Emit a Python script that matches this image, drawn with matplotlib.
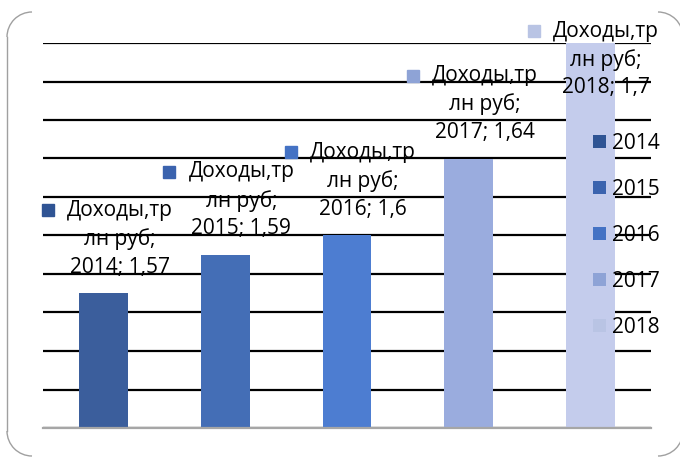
import matplotlib
matplotlib.use("Agg")
import matplotlib.pyplot as plt
from matplotlib.patches import Patch, Arc
from matplotlib.lines import Line2D
from matplotlib.transforms import offset_copy

plt.rcParams['font.family'] = ['Open Sans', 'DejaVu Sans']

years = ["2014", "2015", "2016", "2017", "2018"]
values = [1.57, 1.59, 1.6, 1.64, 1.7]
value_text = ["1,57", "1,59", "1,6", "1,64", "1,7"]
series_name = ["Доходы,тр", "лн руб;"]
colors = ["#3B5E9C", "#446EB6", "#4D7DD1", "#9AACDE", "#C4CCEC"]
key_colors = ["#2F5494", "#3B63AE", "#4472C4", "#8EA3D6", "#B9C4E4"]

W, H = 680, 457
fig = plt.figure(figsize=(W / 100, H / 100), dpi=100)
ax = fig.add_axes([43 / W, 1 - 428 / H, (651 - 43) / W, (428 - 43) / H])

# rounded frame: only sides and corners visible (pixel coords, y from top)
ftr = fig.dpi_scale_trans
def px(xp, yp):
    return xp / 100, (H - yp) / 100
fc = "#a0a0a0"
for cx, cy, t1, t2 in [(32, 37, 90, 180), (32, 431, 180, 270), (658, 37, 0, 90), (658, 431, 270, 360)]:
    fig.add_artist(Arc(px(cx, cy), 0.5, 0.5, theta1=t1, theta2=t2, transform=ftr,
                       edgecolor=fc, linewidth=1.0))
x0, y0 = px(7, 37)
x1, y1 = px(7, 431)
fig.add_artist(Line2D([x0, x1], [y0, y1], transform=ftr, color=fc, linewidth=1.0))

x = list(range(len(years)))
ax.bar(x, [v - 1.5 for v in values], bottom=1.5, width=0.4, color=colors, zorder=2)

ax.set_xlim(-0.5, 4.5)
ax.set_ylim(1.5, 1.7)
ax.set_yticks([1.5 + 0.02 * i for i in range(11)])
ax.yaxis.grid(True, color="black", linewidth=1.6, zorder=1)
ax.set_axisbelow(True)
ax.tick_params(left=False, bottom=False, labelleft=False, labelbottom=False)
for s in ["left", "right", "top"]:
    ax.spines[s].set_visible(False)
ax.spines["bottom"].set_color("#a6a6a6")
ax.spines["bottom"].set_linewidth(1.6)

fs = 15
for i, (yr, v, vt) in enumerate(zip(years, values, value_text)):
    lines = [series_name[0], series_name[1], yr + "; " + vt]
    shift = -71 if i == 4 else 0
    offs = [83, 54, 26]
    for ln, dy in zip(lines, offs):
        ax.annotate(ln, xy=(i, v), xytext=(16, dy + shift), textcoords="offset pixels",
                    ha="center", va="center", fontsize=fs, color="black", zorder=5)
    tr = offset_copy(ax.transData, fig=fig, x=-56, y=83 + shift, units="dots")
    ax.plot([i], [v], marker="s", markersize=9, color=key_colors[i], transform=tr,
            clip_on=False, zorder=5, linestyle="none")

handles = [Patch(facecolor=c, edgecolor="none") for c in key_colors]
fig.legend(handles, years, loc="upper left", bbox_to_anchor=(593 / W, 1 - 133 / H),
           frameon=False, fontsize=fs, handlelength=0.6, handleheight=0.6,
           handletextpad=0.3, labelspacing=1.2, borderpad=0, borderaxespad=0)

fig.savefig("out.png", dpi=100)
